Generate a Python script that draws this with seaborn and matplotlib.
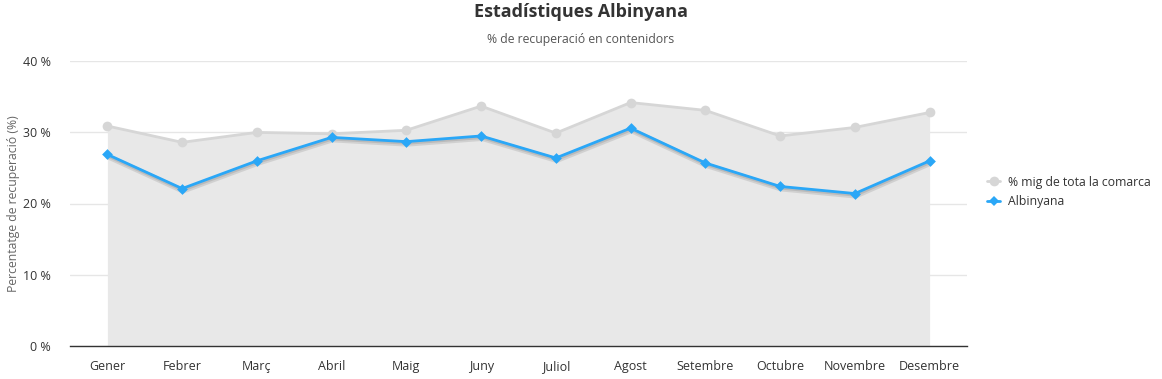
import matplotlib
matplotlib.use("Agg")
import matplotlib.pyplot as plt
import matplotlib.patheffects as pe
from matplotlib.lines import Line2D
import seaborn as sns
import pandas as pd

# dades (llegides del gràfic)
mesos = ["Gener", "Febrer", "Març", "Abril", "Maig", "Juny", "Juliol",
         "Agost", "Setembre", "Octubre", "Novembre", "Desembre"]
comarca = [30.9, 28.6, 30.0, 29.8, 30.3, 33.7, 29.9, 34.2, 33.1, 29.5, 30.7, 32.8]
albinyana = [26.9, 22.1, 26.0, 29.3, 28.7, 29.5, 26.4, 30.6, 25.7, 22.4, 21.4, 26.0]

sns.set_theme(style="white")
plt.rcParams['font.family'] = ['Open Sans', 'DejaVu Sans']

df = pd.DataFrame({"mes": range(len(mesos)), "comarca": comarca, "albinyana": albinyana})

fig = plt.figure(figsize=(11.62, 3.79), dpi=100)
ax = fig.add_axes([70 / 1162, 1 - 345.7 / 379, 897 / 1162, 284.4 / 379])

gris = "#d6d6d6"
blau = "#2aa7f7"

ax.fill_between(df["mes"], 0, df["comarca"], color="#e8e8e8", lw=0, zorder=1)
sns.lineplot(data=df, x="mes", y="comarca", ax=ax, color=gris, lw=2,
             marker="o", markersize=7, markeredgewidth=0, legend=False, zorder=3)

# línia blava amb ombra suau, marcadors a part
sns.lineplot(data=df, x="mes", y="albinyana", ax=ax, color=blau, lw=2, legend=False, zorder=4)
ax.lines[-1].set_path_effects([
    pe.SimpleLineShadow(offset=(0.6, -1.6), shadow_color="#666666", alpha=0.18, linewidth=4),
    pe.SimpleLineShadow(offset=(0.4, -1.0), shadow_color="#666666", alpha=0.2, linewidth=2.5),
    pe.Normal()])
sns.scatterplot(data=df, x="mes", y="albinyana", ax=ax, color=blau, marker="D", s=30,
                linewidth=0, legend=False, zorder=5)

ax.set_xlim(-0.5, len(mesos) - 0.5)
ax.set_ylim(0, 40)
ax.set_yticks([0, 10, 20, 30, 40])
ax.set_yticklabels([f"{v} %" for v in [0, 10, 20, 30, 40]], color="#333333", fontsize=9)
ax.set_xticks(range(len(mesos)))
ax.set_xticklabels(mesos, color="#333333", fontsize=9)
ax.tick_params(axis="x", pad=10, length=0)
ax.tick_params(axis="y", pad=14, length=0)
ax.grid(axis="y", color="#e6e6e6", lw=1, zorder=0)
ax.set_axisbelow(True)
for s in ["top", "right", "left"]:
    ax.spines[s].set_visible(False)
ax.spines["bottom"].set_color("#333333")
ax.spines["bottom"].set_linewidth(1)
ax.set_xlabel("")
ax.set_ylabel("Percentatge de recuperació (%)", color="#666666", fontsize=8.8, labelpad=2)

handles = [Line2D([], [], color=gris, lw=2, marker="o", markersize=7, markeredgewidth=0),
           Line2D([], [], color=blau, lw=2, marker="D", markersize=5, markeredgewidth=0)]
leg = ax.legend(handles, ["% mig de tota la comarca", "Albinyana"], loc="center left",
                bbox_to_anchor=(1.01, 0.54), frameon=False,
                fontsize=8.8, handlelength=1.1, handletextpad=0.6, labelspacing=0.55)
for t in leg.get_texts():
    t.set_color("#333333")

fig.text(0.5, 1 - 12 / 379, "Estadístiques Albinyana", ha="center", va="center",
         fontsize=13, fontweight="bold", color="#333333")
fig.text(0.5, 1 - 39 / 379, "% de recuperació en contenidors", ha="center", va="center",
         fontsize=8.8, color="#555555")

fig.savefig("out.png", dpi=100)
